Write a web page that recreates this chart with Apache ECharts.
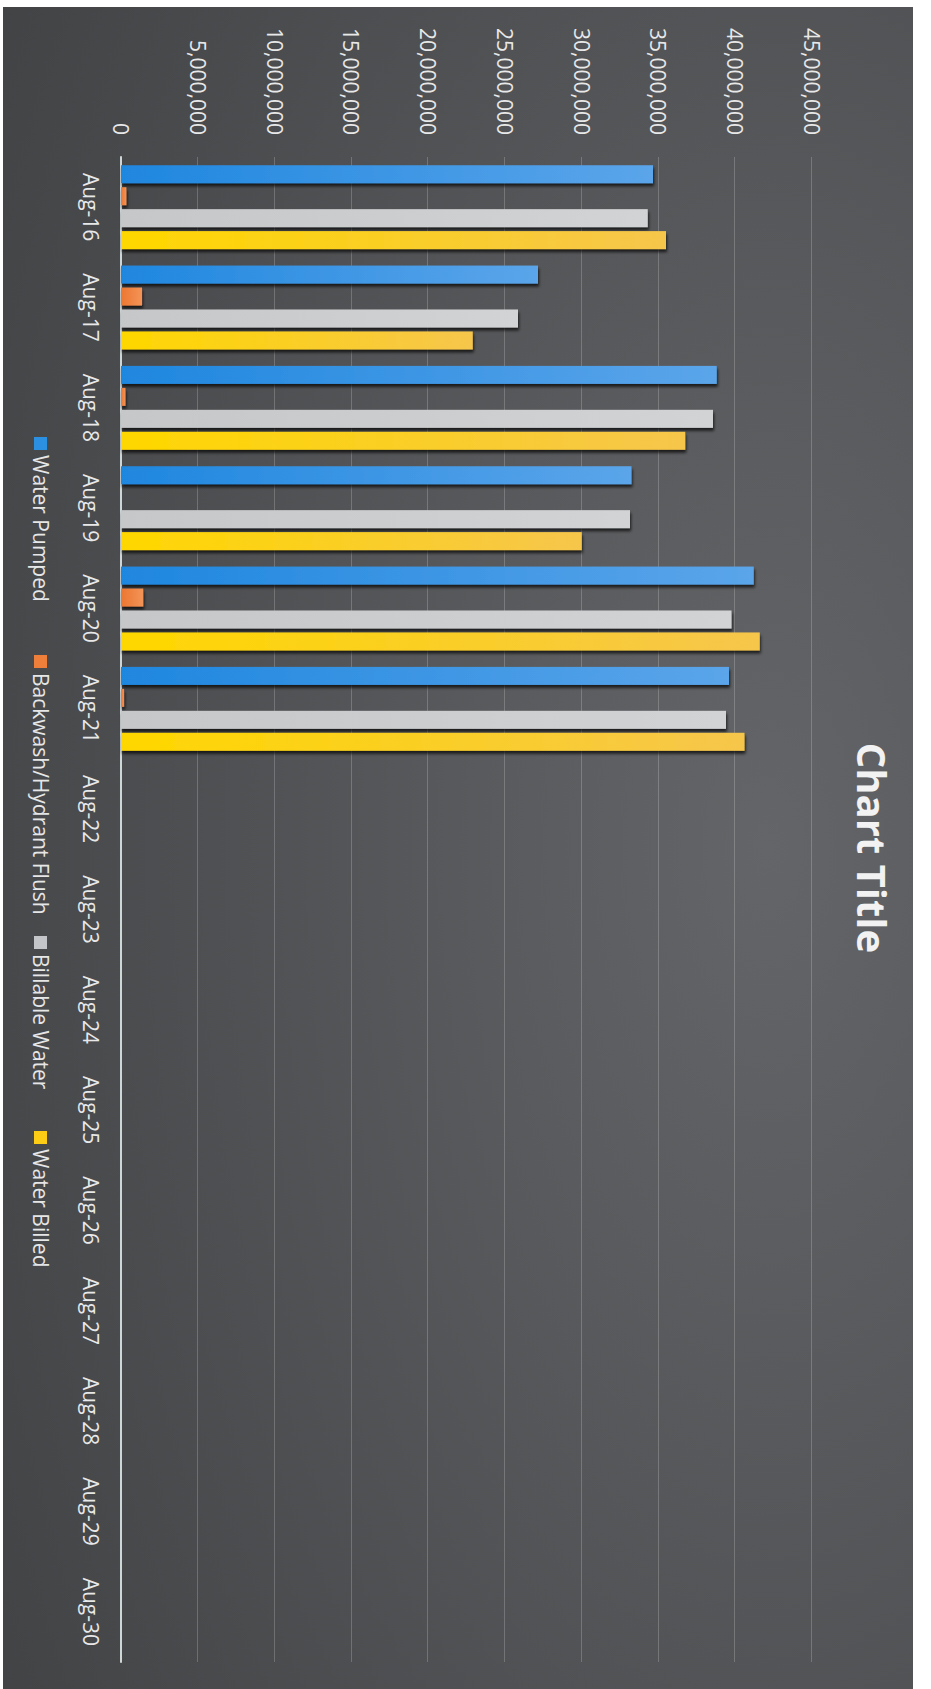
<!DOCTYPE html>
<html>
<head>
<meta charset="utf-8">
<script src="https://cdn.jsdelivr.net/npm/echarts@6/dist/echarts.min.js"></script>
<style>
  html, body { margin: 0; padding: 0; width: 931px; height: 1689px; overflow: hidden; background: #ffffff; }
  #wrap { position: absolute; left: 0; top: 0; width: 1689px; height: 931px;
          transform-origin: 0 0; transform: translate(931px, 0) rotate(90deg); background: #ffffff; }
  #chart { position: absolute; left: 7px; top: 18px; width: 1682px; height: 910px; }
</style>
</head>
<body>
<div id="wrap"><div id="chart"></div></div>
<script>
// ---- data ----
const categories = ['Aug-16','Aug-17','Aug-18','Aug-19','Aug-20','Aug-21','Aug-22','Aug-23',
                    'Aug-24','Aug-25','Aug-26','Aug-27','Aug-28','Aug-29','Aug-30'];
const waterPumped    = [34650000, 27150000, 38800000, 33250000, 41200000, 39600000, null, null, null, null, null, null, null, null, null];
const backwashFlush  = [  350000,  1370000,   290000,     null,  1450000,   200000, null, null, null, null, null, null, null, null, null];
const billableWater  = [34300000, 25850000, 38550000, 33150000, 39750000, 39400000, null, null, null, null, null, null, null, null, null];
const waterBilled    = [35500000, 22900000, 36750000, 30000000, 41600000, 40600000, null, null, null, null, null, null, null, null, null];
const seriesNames = ['Water Pumped', 'Backwash/Hydrant Flush', 'Billable Water', 'Water Billed'];
const valueAxisMin = 0;
const valueAxisMax = 45000000;
const valueAxisStep = 5000000;
const chartTitle = 'Chart Title';

// ---- styling ----
const FONT = 'Open Sans';
const solid = ['#2b8fe2', '#ee7f3a', '#c4c5c9', '#fdcc14'];
const grads = [
  ['#5ba5ea', '#1f87df'],
  ['#f39458', '#ec7630'],
  ['#d2d3d5', '#c6c7c9'],
  ['#f6c64c', '#ffd700']
];
function grad(i) {
  return { type: 'linear', x: 0, y: 0, x2: 0, y2: 1,
           colorStops: [{ offset: 0, color: grads[i][0] }, { offset: 1, color: grads[i][1] }] };
}
const dataSets = [waterPumped, backwashFlush, billableWater, waterBilled];
const legendLefts = [430, 648, 929, 1124];

const chart = echarts.init(document.getElementById('chart'), null, { renderer: 'svg' });
chart.setOption({
  animation: false,
  backgroundColor: {
    type: 'radial', x: 0.5, y: 0.16, r: 1.25,
    colorStops: [{ offset: 0, color: '#646568' }, { offset: 1, color: '#393a3c' }]
  },
  title: {
    text: chartTitle, left: 'center', top: 16,
    textStyle: { fontFamily: FONT, fontSize: 40, fontWeight: 'bold', color: '#f2f2f2' }
  },
  legend: seriesNames.map((n, i) => ({
    data: [{ name: n, itemStyle: { color: solid[i] } }],
    left: legendLefts[i], top: 862, padding: 0,
    icon: 'rect', itemWidth: 13, itemHeight: 13,
    textStyle: { fontFamily: FONT, fontSize: 21, color: '#e6e6e6' }
  })),
  grid: { left: 150, right: 27, top: 101, bottom: 118, containLabel: false },
  xAxis: {
    type: 'category', data: categories,
    axisLine: { lineStyle: { color: '#cfd6d8', width: 2 } },
    axisTick: { show: false },
    axisLabel: { interval: 0, margin: 20, color: '#e8e8e8', fontFamily: FONT, fontSize: 21 }
  },
  yAxis: {
    type: 'value', min: valueAxisMin, max: valueAxisMax, interval: valueAxisStep,
    axisLine: { show: false }, axisTick: { show: false },
    axisLabel: { margin: 22, color: '#e8e8e8', fontFamily: FONT, fontSize: 21,
                 formatter: v => v.toLocaleString('en-US') },
    splitLine: { lineStyle: { color: 'rgba(255,255,255,0.2)', width: 1 } }
  },
  series: seriesNames.map((n, i) => ({
    name: n, type: 'bar', data: dataSets[i],
    barWidth: 18, barGap: '22%',
    itemStyle: { color: grad(i), shadowColor: 'rgba(0,0,0,0.7)', shadowBlur: 3, shadowOffsetX: 3, shadowOffsetY: -1 }
  }))
});
</script>
</body>
</html>
